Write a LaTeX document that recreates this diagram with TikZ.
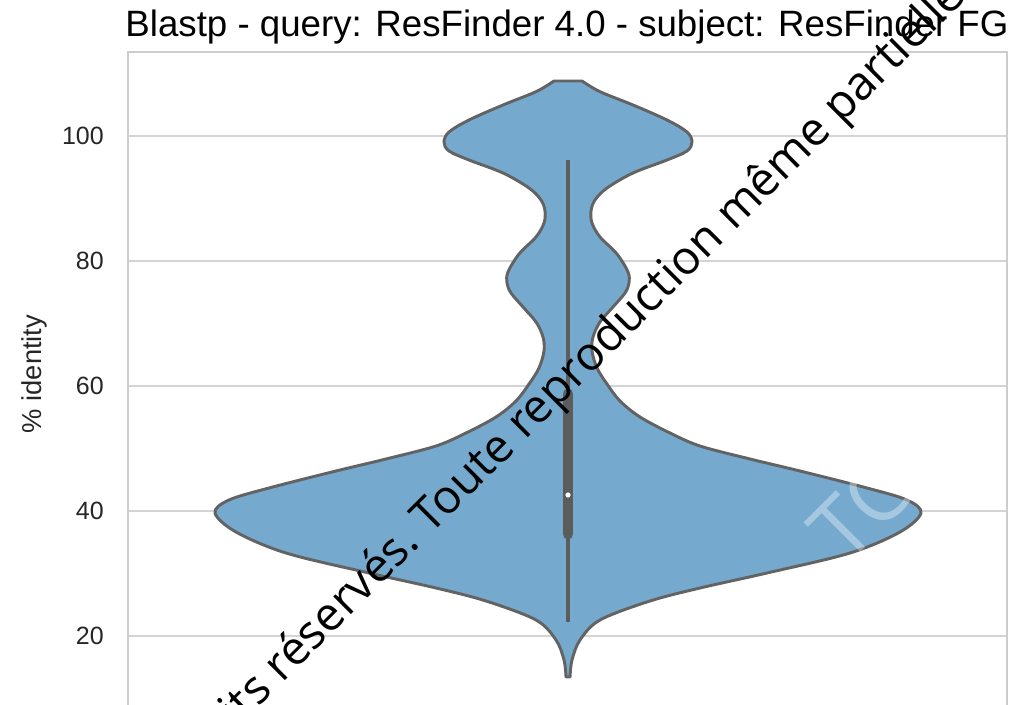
\documentclass[tikz,border=0pt]{standalone}
\usepackage{fontspec}
\setmainfont{Liberation Sans}
\newfontfamily\wmfont{Open Sans}
\definecolor{violinfill}{HTML}{75AACE}
\definecolor{violinline}{HTML}{636363}
\definecolor{boxgray}{HTML}{5C5C5C}
\definecolor{gridgray}{HTML}{D4D4D4}
\definecolor{spinegray}{HTML}{CDCDCD}
\definecolor{ticktext}{HTML}{262626}
\tikzset{
  gridline/.style={draw=gridgray, line width=1.5pt},
  spine/.style={draw=spinegray, line width=2.2pt},
  ticklab/.style={anchor=east, inner sep=0pt, text=ticktext, font=\fontsize{18.75}{20}\selectfont},
  axlab/.style={rotate=90, inner sep=0pt, text=ticktext, font=\fontsize{20.5}{22}\selectfont},
  titlelab/.style={anchor=base, inner sep=0pt, text=black, font=\fontsize{27.5}{30}\selectfont},
  violinshape/.style={fill=violinfill, draw=violinline, line width=2.2pt, line join=round},
  whisker/.style={draw=boxgray, line width=2.6pt},
  boxbar/.style={draw=boxgray, line width=8.2pt, line cap=round},
  wmblack/.style={inner sep=0pt, rotate=45, text=black, font=\wmfont\fontsize{35}{40}\selectfont},
  wmwhite/.style={inner sep=0pt, rotate=45, text=white, text opacity=0.35, font=\wmfont\fontsize{64}{70}\selectfont}
}
\begin{document}
\begin{tikzpicture}[x=0.75pt,y=-0.75pt]
\useasboundingbox (0,0) rectangle (1010,705);
\clip (0,0) rectangle (1010,705);
\fill[white] (0,0) rectangle (1010,705);
% gridlines
\foreach \yy in {136,261,386,511,636} {
  \draw[gridline] (128,\yy) -- (1007,\yy);
}
% spines
\draw[spine] (128,720) -- (128,52) -- (1007,52) -- (1007,720);
% tick labels
\node[ticklab] (t100) at (104,136) {100};
\node[ticklab] (t80) at (104,261) {80};
\node[ticklab] (t60) at (104,386) {60};
\node[ticklab] (t40) at (104,511) {40};
\node[ticklab] (t20) at (104,636) {20};
\node[axlab] (ylab) at (34,374) {\% identity};
\node[titlelab] (title) at (567,37) {Blastp - query: ResFinder 4.0 - subject: ResFinder FG};
% violin
\draw[violinshape] (554,81) -- (582,81)
 -- plot[smooth, tension=0.55] coordinates {(582,81) (600,91.7) (633,105) (667,120) (687,132) (692,142) (687,151) (667,160) (633,173) (607,188) (595,200) (591,211) (592,223) (600,237) (617,254) (628,272) (629,283) (625,293) (613,307) (600,322) (593,337) (592,351) (597,368) (607,384) (620,401) (640,417) (670,433) (700,446) (750,459) (800,471) (867,488) (907,500) (921,513) (900,532) (850,553) (767,573) (700,588) (650,601) (600,620) (580,640) (572,660) (570,677)}
 -- plot[smooth, tension=0.55] coordinates {(566,677) (564,660) (556,640) (536,620) (486,601) (436,588) (369,573) (286,553) (236,532) (215,513) (229,500) (269,488) (336,471) (386,459) (436,446) (466,433) (496,417) (516,401) (529,384) (539,368) (544,351) (543,337) (536,322) (523,307) (511,293) (507,283) (508,272) (519,254) (536,237) (544,223) (545,211) (541,200) (529,188) (503,173) (469,160) (449,151) (444,142) (449,132) (469,120) (503,105) (536,91.7) (554,81)}
 -- cycle;
% box
\coordinate (wtop) at (568,160);
\coordinate (wbot) at (568,622);
\coordinate (btop) at (568,394);
\coordinate (bbot) at (568,534);
\coordinate (med) at (568,495);
\draw[whisker] (wtop) -- (wbot);
\draw[boxbar] (btop) -- (bbot);
\fill[white] (med) circle (2.6);
% watermarks
\node[wmwhite, anchor=base west] (wmw) at (846,567) {TC};
\node[wmblack, anchor=base west] (wm1) at (430,536) {Toute reproduction même partielle};
\node[wmblack, anchor=base east] (wm2) at (430,536) {Droits réservés.\ \mbox{}};
\end{tikzpicture}
\end{document}
